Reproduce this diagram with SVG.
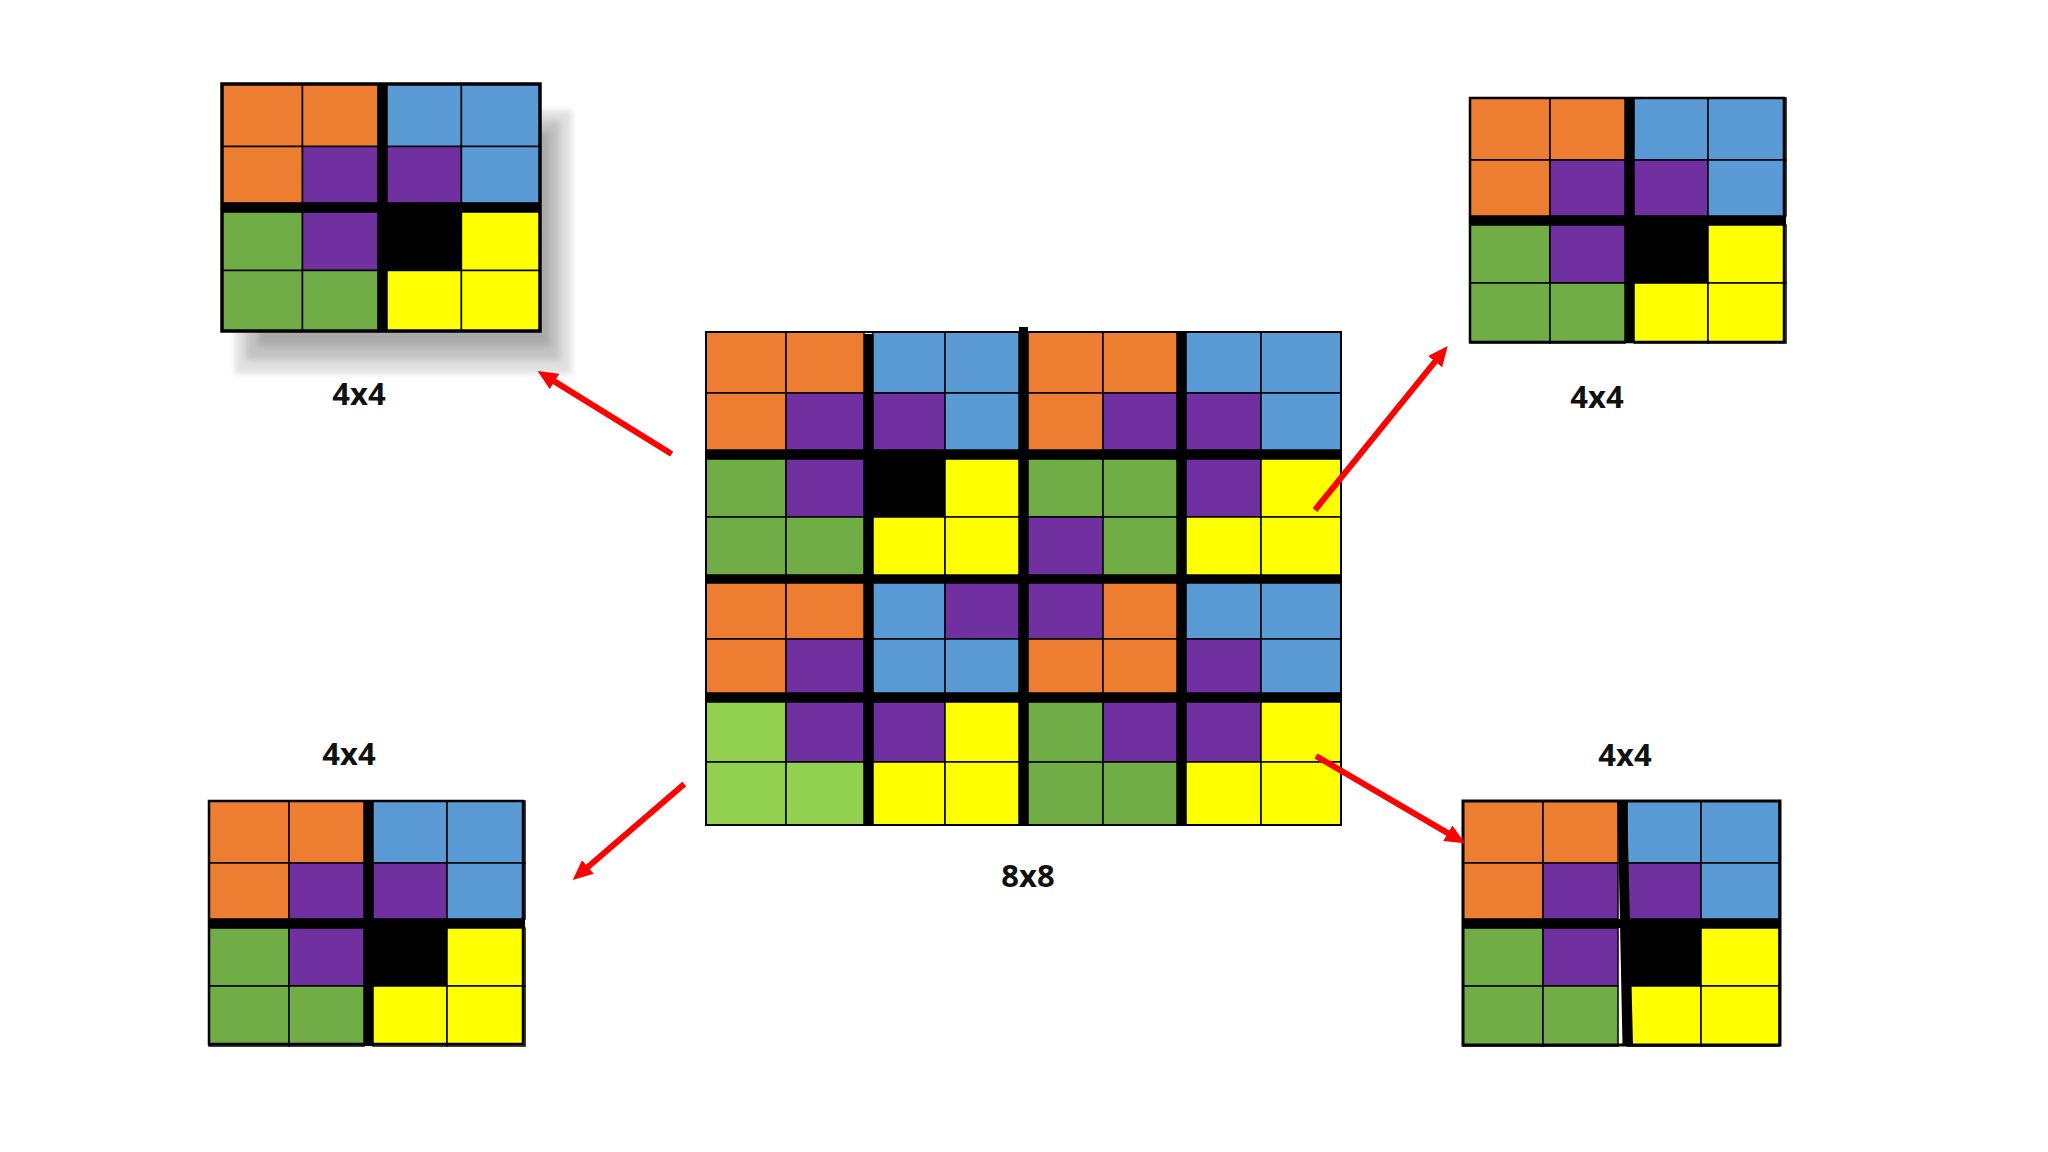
<svg xmlns="http://www.w3.org/2000/svg" xmlns:xlink="http://www.w3.org/1999/xlink" width="2048" height="1152" viewBox="0 0 2048 1152">
<style>
rect.c{stroke:#000;stroke-width:1.5}
.o{fill:#ED7D31}.b{fill:#5B9BD5}.p{fill:#7030A0}.g{fill:#70AD47}.y{fill:#FFFF00}.k{fill:#000}.l{fill:#92D050}
.bar{fill:#000}
.frame{fill:none;stroke:#000}
.lbl{font-family:"Open Sans","Liberation Sans",sans-serif;font-weight:700;font-size:31px;fill:#111;text-anchor:middle}
.arr{stroke:#FF0000;stroke-width:6;fill:none;marker-end:url(#ah)}
.sh{fill:#000;opacity:0.12;filter:url(#blur)}
</style>
<defs>
<filter id="blur" x="-10%" y="-10%" width="120%" height="120%"><feGaussianBlur stdDeviation="3"/></filter>
<marker id="ah" viewBox="0 0 20 18" refX="5" refY="9" markerWidth="20" markerHeight="18" markerUnits="userSpaceOnUse" orient="auto">
<path d="M0,0 L20,9 L0,18 z" fill="#FF0000"/>
</marker>
<g id="cells4">
<rect class="c o" x="0" y="0" width="80" height="62"/>
<rect class="c o" x="80" y="0" width="75" height="62"/>
<rect class="c b" x="164" y="0" width="74" height="62"/>
<rect class="c b" x="238" y="0" width="78" height="62"/>
<rect class="c o" x="0" y="62" width="80" height="56"/>
<rect class="c p" x="80" y="62" width="75" height="56"/>
<rect class="c p" x="164" y="62" width="74" height="56"/>
<rect class="c b" x="238" y="62" width="78" height="56"/>
<rect class="c g" x="0" y="127" width="80" height="58"/>
<rect class="c p" x="80" y="127" width="75" height="58"/>
<rect class="c k" x="164" y="127" width="74" height="58"/>
<rect class="c y" x="238" y="127" width="78" height="58"/>
<rect class="c g" x="0" y="185" width="80" height="60"/>
<rect class="c g" x="80" y="185" width="75" height="60"/>
<rect class="c y" x="164" y="185" width="74" height="60"/>
<rect class="c y" x="238" y="185" width="78" height="60"/>
<rect class="bar" x="0" y="118" width="316" height="9"/>
</g>
<g id="grid4">
<use xlink:href="#cells4"/>
<rect class="bar" x="155" y="0" width="9" height="245"/>
</g>
</defs>
<rect width="2048" height="1152" fill="#fff"/>

<g id="grid-top-left">
<rect class="sh" x="235" y="110" width="337" height="264"/>
<rect class="sh" x="246" y="121" width="314" height="239"/>
<rect class="sh" x="258" y="132" width="292" height="214"/>
<rect x="222" y="84" width="318" height="247" fill="#fff"/>
<use xlink:href="#grid4" transform="translate(222,84) scale(1.006,1.008)"/>
<rect class="frame" x="222" y="84" width="318" height="247" stroke-width="3.5"/>
<text class="lbl" x="359" y="405">4x4</text>
</g>

<g id="grid-top-right">
<use xlink:href="#grid4" transform="translate(1470,98)"/>
<rect class="frame" x="1470" y="98" width="314" height="244" stroke-width="2.5"/>
<text class="lbl" x="1597" y="408">4x4</text>
</g>

<g id="grid-bottom-left">
<use xlink:href="#grid4" transform="translate(209,801)"/>
<rect class="frame" x="209" y="801" width="314" height="243" stroke-width="2.5"/>
<text class="lbl" x="349" y="765">4x4</text>
</g>

<g id="grid-bottom-right">
<use xlink:href="#cells4" transform="translate(1463,801)"/>
<polygon class="bar" points="1617.5,801 1627,801 1633,1045 1622.5,1045"/>
<rect class="frame" x="1463" y="801" width="317" height="244" stroke-width="3"/>
<text class="lbl" x="1625" y="766">4x4</text>
</g>

<g id="grid-center">
<rect class="c o" x="706" y="332" width="80" height="61"/>
<rect class="c o" x="786" y="332" width="78" height="61"/>
<rect class="c b" x="873" y="332" width="72" height="61"/>
<rect class="c b" x="945" y="332" width="74" height="61"/>
<rect class="c o" x="1028" y="332" width="75" height="61"/>
<rect class="c o" x="1103" y="332" width="74" height="61"/>
<rect class="c b" x="1186" y="332" width="75" height="61"/>
<rect class="c b" x="1261" y="332" width="80" height="61"/>
<rect class="c o" x="706" y="393" width="80" height="57"/>
<rect class="c p" x="786" y="393" width="78" height="57"/>
<rect class="c p" x="873" y="393" width="72" height="57"/>
<rect class="c b" x="945" y="393" width="74" height="57"/>
<rect class="c o" x="1028" y="393" width="75" height="57"/>
<rect class="c p" x="1103" y="393" width="74" height="57"/>
<rect class="c p" x="1186" y="393" width="75" height="57"/>
<rect class="c b" x="1261" y="393" width="80" height="57"/>
<rect class="c g" x="706" y="459" width="80" height="58"/>
<rect class="c p" x="786" y="459" width="78" height="58"/>
<rect class="c k" x="873" y="459" width="72" height="58"/>
<rect class="c y" x="945" y="459" width="74" height="58"/>
<rect class="c g" x="1028" y="459" width="75" height="58"/>
<rect class="c g" x="1103" y="459" width="74" height="58"/>
<rect class="c p" x="1186" y="459" width="75" height="58"/>
<rect class="c y" x="1261" y="459" width="80" height="58"/>
<rect class="c g" x="706" y="517" width="80" height="58"/>
<rect class="c g" x="786" y="517" width="78" height="58"/>
<rect class="c y" x="873" y="517" width="72" height="58"/>
<rect class="c y" x="945" y="517" width="74" height="58"/>
<rect class="c p" x="1028" y="517" width="75" height="58"/>
<rect class="c g" x="1103" y="517" width="74" height="58"/>
<rect class="c y" x="1186" y="517" width="75" height="58"/>
<rect class="c y" x="1261" y="517" width="80" height="58"/>
<rect class="c o" x="706" y="583" width="80" height="56"/>
<rect class="c o" x="786" y="583" width="78" height="56"/>
<rect class="c b" x="873" y="583" width="72" height="56"/>
<rect class="c p" x="945" y="583" width="74" height="56"/>
<rect class="c p" x="1028" y="583" width="75" height="56"/>
<rect class="c o" x="1103" y="583" width="74" height="56"/>
<rect class="c b" x="1186" y="583" width="75" height="56"/>
<rect class="c b" x="1261" y="583" width="80" height="56"/>
<rect class="c o" x="706" y="639" width="80" height="54"/>
<rect class="c p" x="786" y="639" width="78" height="54"/>
<rect class="c b" x="873" y="639" width="72" height="54"/>
<rect class="c b" x="945" y="639" width="74" height="54"/>
<rect class="c o" x="1028" y="639" width="75" height="54"/>
<rect class="c o" x="1103" y="639" width="74" height="54"/>
<rect class="c p" x="1186" y="639" width="75" height="54"/>
<rect class="c b" x="1261" y="639" width="80" height="54"/>
<rect class="c l" x="706" y="702" width="80" height="60"/>
<rect class="c p" x="786" y="702" width="78" height="60"/>
<rect class="c p" x="873" y="702" width="72" height="60"/>
<rect class="c y" x="945" y="702" width="74" height="60"/>
<rect class="c g" x="1028" y="702" width="75" height="60"/>
<rect class="c p" x="1103" y="702" width="74" height="60"/>
<rect class="c p" x="1186" y="702" width="75" height="60"/>
<rect class="c y" x="1261" y="702" width="80" height="60"/>
<rect class="c l" x="706" y="762" width="80" height="63"/>
<rect class="c l" x="786" y="762" width="78" height="63"/>
<rect class="c y" x="873" y="762" width="72" height="63"/>
<rect class="c y" x="945" y="762" width="74" height="63"/>
<rect class="c g" x="1028" y="762" width="75" height="63"/>
<rect class="c g" x="1103" y="762" width="74" height="63"/>
<rect class="c y" x="1186" y="762" width="75" height="63"/>
<rect class="c y" x="1261" y="762" width="80" height="63"/>
<rect class="bar" x="706" y="450" width="635" height="9"/>
<rect class="bar" x="706" y="575" width="635" height="8"/>
<rect class="bar" x="706" y="693" width="635" height="9"/>
<rect class="bar" x="864" y="334" width="9" height="491"/>
<rect class="bar" x="1019" y="327" width="9" height="498"/>
<rect class="bar" x="1177" y="332" width="9" height="493"/>
<rect class="frame" x="706" y="332" width="635" height="493" stroke-width="2"/>
<text class="lbl" x="1028" y="887">8x8</text>
</g>

<g id="connectors">
<line class="arr" x1="671.7" y1="454" x2="550.3" y2="378.9"/>
<line class="arr" x1="1315" y1="510" x2="1438.3" y2="357.7"/>
<line class="arr" x1="684.3" y1="784" x2="584.1" y2="870.2"/>
<line class="arr" x1="1316" y1="756" x2="1452.1" y2="835.7"/>
</g>
</svg>
